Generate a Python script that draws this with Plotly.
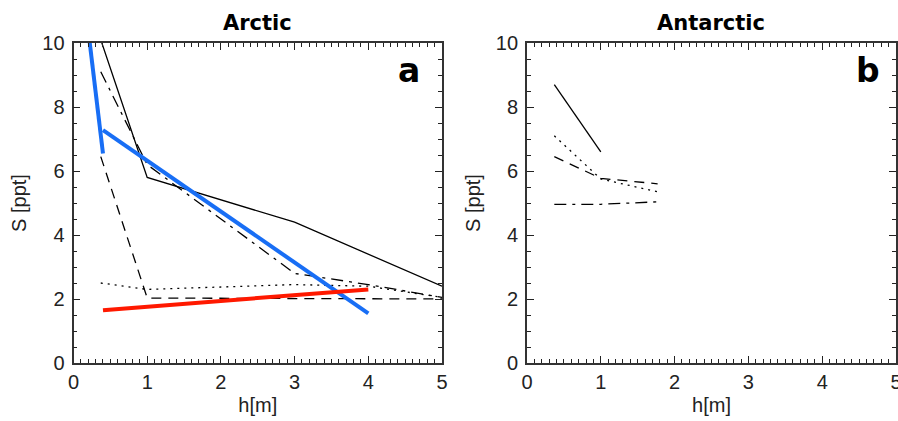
import plotly.graph_objects as go

# Arctic (panel a) salinity profiles S [ppt] vs ice thickness h [m]
arc_solid_h = [0.37, 1.0, 3.0, 5.0]
arc_solid_s = [10.1, 5.8, 4.4, 2.4]
arc_dashdot_h = [0.37, 1.0, 3.0, 4.0, 5.0]
arc_dashdot_s = [9.1, 6.2, 2.8, 2.45, 2.05]
arc_longdash_h = [0.37, 1.0, 5.0]
arc_longdash_s = [6.45, 2.03, 2.0]
arc_dot_h = [0.37, 1.0, 3.0, 4.0, 5.0]
arc_dot_s = [2.5, 2.3, 2.45, 2.4, 2.05]
arc_fit_thin_h = [0.2, 0.4]
arc_fit_thin_s = [10.4, 6.55]
arc_fit_thick_h = [0.4, 4.0]
arc_fit_thick_s = [7.28, 1.55]
arc_fit_red_h = [0.4, 4.0]
arc_fit_red_s = [1.65, 2.3]

# Antarctic (panel b)
ant_solid_h = [0.37, 1.0]
ant_solid_s = [8.7, 6.6]
ant_dot_h = [0.37, 1.0, 1.77]
ant_dot_s = [7.1, 5.75, 5.35]
ant_dash_h = [0.37, 1.0, 1.77]
ant_dash_s = [6.45, 5.77, 5.6]
ant_dashdot_h = [0.37, 1.0, 1.8]
ant_dashdot_s = [4.96, 4.96, 5.04]

W, H = 898, 421
BLUE = "rgb(24,110,245)"
RED = "rgb(255,25,0)"
DOT = "2px,5px"
DASH = "10px,7px"
DASHDOT = "12px,6px,3px,6px"

fig = go.Figure()


def line(x, y, ax, color="black", width=1.3, dash="solid"):
    fig.add_trace(go.Scatter(
        x=x, y=y, mode="lines", xaxis="x" + ax, yaxis="y" + ax,
        line=dict(color=color, width=width, dash=dash),
        showlegend=False, hoverinfo="skip"))


line(arc_solid_h, arc_solid_s, "")
line(arc_dashdot_h, arc_dashdot_s, "", dash=DASHDOT)
line(arc_longdash_h, arc_longdash_s, "", dash=DASH)
line(arc_dot_h, arc_dot_s, "", dash=DOT)
line(arc_fit_thin_h, arc_fit_thin_s, "", color=BLUE, width=4)
line(arc_fit_thick_h, arc_fit_thick_s, "", color=BLUE, width=4)
line(arc_fit_red_h, arc_fit_red_s, "", color=RED, width=4)

line(ant_solid_h, ant_solid_s, "2")
line(ant_dot_h, ant_dot_s, "2", dash=DOT)
line(ant_dash_h, ant_dash_s, "2", dash=DASH)
line(ant_dashdot_h, ant_dashdot_s, "2", dash=DASHDOT)

tick_font = dict(family="Liberation Sans, Arial, sans-serif", size=20, color="#222")


def xaxis(domain, anchor):
    return dict(
        domain=domain, range=[0, 5], anchor=anchor,
        tickmode="linear", tick0=0, dtick=1,
        showline=True, linecolor="#333", linewidth=1.8, mirror="allticks",
        ticks="inside", ticklen=7, tickwidth=1.3, tickcolor="#222",
        minor=dict(tickmode="linear", tick0=0, dtick=0.1, ticks="inside",
                   ticklen=4, tickwidth=1, tickcolor="#222", showgrid=False),
        showgrid=False, zeroline=False, tickfont=tick_font, automargin=False,
        ticklabeloverflow="allow",
        title=dict(text="h[m]", font=tick_font, standoff=6),
    )


def yaxis(anchor):
    return dict(
        domain=[1 - 363 / H, 1 - 43 / H], range=[0, 10], anchor=anchor,
        tickmode="linear", tick0=0, dtick=2,
        showline=True, linecolor="#333", linewidth=1.8, mirror="allticks",
        ticks="inside", ticklen=7, tickwidth=1.3, tickcolor="#222",
        minor=dict(tickmode="linear", tick0=0, dtick=0.5, ticks="inside",
                   ticklen=4, tickwidth=1, tickcolor="#222", showgrid=False),
        showgrid=False, zeroline=False, tickfont=tick_font, automargin=False,
        ticklabeloverflow="allow", ticklabelstandoff=3,
        title=dict(text="S [ppt]", font=tick_font, standoff=10),
    )


fig.update_layout(
    width=W, height=H,
    margin=dict(l=0, r=0, t=0, b=0),
    paper_bgcolor="white", plot_bgcolor="white",
    xaxis=xaxis([73.5 / W, 442 / W], "y"),
    yaxis=yaxis("x"),
    xaxis2=xaxis([527 / W, 896 / W], "y2"),
    yaxis2=yaxis("x2"),
)

title_font = dict(family="DejaVu Sans", size=21, color="black")
label_font = dict(family="DejaVu Sans", size=33, color="black")
for txt, px in [("<b>Arctic</b>", 257), ("<b>Antarctic</b>", 711)]:
    fig.add_annotation(text=txt, x=px / W, y=1 - 23 / H, xref="paper", yref="paper",
                       showarrow=False, font=title_font, xanchor="center", yanchor="middle")
for txt, px in [("<b>a</b>", 409), ("<b>b</b>", 868)]:
    fig.add_annotation(text=txt, x=px / W, y=1 - 70 / H, xref="paper", yref="paper",
                       showarrow=False, font=label_font, xanchor="center", yanchor="middle")

fig.write_html("out.html")
